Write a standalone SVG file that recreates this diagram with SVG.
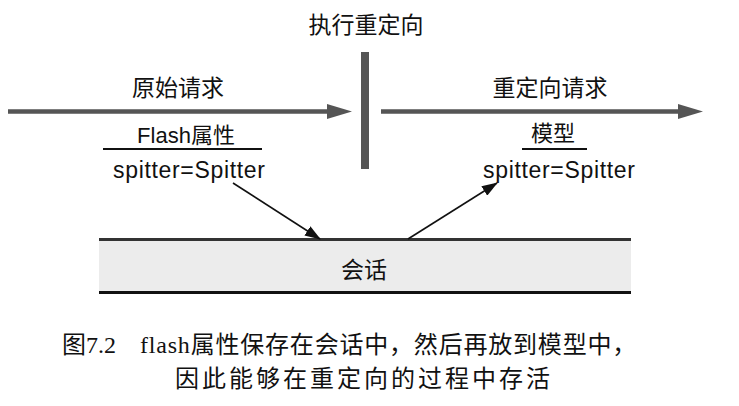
<svg xmlns="http://www.w3.org/2000/svg" width="739" height="406" viewBox="0 0 739 406">
  <style>
    .cjk { font-family: "Noto Sans CJK SC", sans-serif; fill: #111; }
    .lat { font-family: "Liberation Sans", "Noto Sans CJK SC", sans-serif; fill: #111; }
    .cap { font-family: "Liberation Serif", "Noto Sans CJK SC", serif; fill: #111; font-size: 24px; }
    .flow { stroke: #555; stroke-width: 4.5; fill: none; }
    .link { stroke: #111; stroke-width: 1.6; fill: none; }
    .rule { stroke: #111; stroke-width: 2; }
  </style>
  <defs>
    <marker id="head-gray" markerUnits="userSpaceOnUse" markerWidth="26" markerHeight="15" refX="2" refY="7.5" orient="auto">
      <path d="M0,0 L25,7.5 L0,15 z" fill="#555"/>
    </marker>
    <marker id="head-black" markerUnits="userSpaceOnUse" markerWidth="16" markerHeight="11" refX="15" refY="5.5" orient="auto">
      <path d="M0,0 L16,5.5 L0,11 z" fill="#111"/>
    </marker>
  </defs>

  <rect width="739" height="406" fill="#fff"/>

  <!-- redirect barrier -->
  <g id="redirect">
    <text class="cjk" x="366" y="33" font-size="23" text-anchor="middle">执行重定向</text>
    <rect x="361" y="52" width="8" height="117" fill="#555"/>
  </g>

  <!-- original request -->
  <g id="original-request">
    <text class="cjk" x="178" y="96" font-size="23" text-anchor="middle">原始请求</text>
  </g>

  <!-- redirect request -->
  <g id="redirect-request">
    <text class="cjk" x="550" y="96" font-size="23" text-anchor="middle">重定向请求</text>
  </g>

  <!-- flash attributes -->
  <g id="flash-attrs">
    <text class="lat" x="186" y="143" font-size="22" text-anchor="middle">Flash属性</text>
    <line class="rule" x1="103" y1="149" x2="262" y2="149"/>
    <text class="lat" x="189" y="178" font-size="23" text-anchor="middle" textLength="152">spitter=Spitter</text>
  </g>

  <!-- model -->
  <g id="model">
    <text class="cjk" x="553" y="141" font-size="22" text-anchor="middle">模型</text>
    <line class="rule" x1="522" y1="149" x2="587" y2="149"/>
    <text class="lat" x="559" y="178" font-size="23" text-anchor="middle" textLength="152">spitter=Spitter</text>
  </g>

  <!-- session -->
  <g id="session">
    <rect x="99" y="239" width="532" height="54" fill="#ececec"/>
    <line x1="99" y1="239.5" x2="631" y2="239.5" stroke="#333" stroke-width="3"/>
    <line x1="99" y1="292.5" x2="631" y2="292.5" stroke="#111" stroke-width="3"/>
    <text class="cjk" x="364" y="278" font-size="23" text-anchor="middle">会话</text>
  </g>

  <!-- connectors -->
  <g id="connectors">
    <line class="flow" x1="8" y1="111.5" x2="329" y2="111.5" marker-end="url(#head-gray)"/>
    <line class="flow" x1="381" y1="111.5" x2="680" y2="111.5" marker-end="url(#head-gray)"/>
    <line class="link" x1="233" y1="183" x2="320" y2="239" marker-end="url(#head-black)"/>
    <line class="link" x1="408" y1="239" x2="497" y2="183" marker-end="url(#head-black)"/>
  </g>

  <!-- caption -->
  <g id="caption">
    <text class="cap" y="353"><tspan x="62">图7.2</tspan><tspan x="140" letter-spacing="0.8">flash属性保存在会话中，然后再放到模型中，</tspan></text>
    <text class="cap" x="364" y="387" text-anchor="middle" letter-spacing="3">因此能够在重定向的过程中存活</text>
  </g>
</svg>
